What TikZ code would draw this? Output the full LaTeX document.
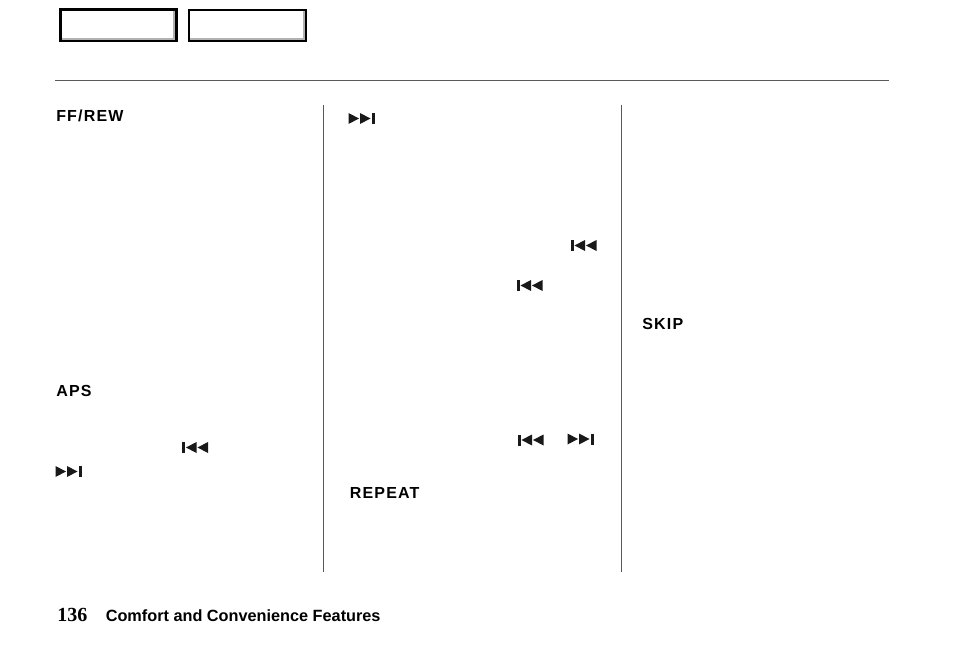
\documentclass[tikz,border=0pt]{standalone}
\usepackage{fontspec}
\setmainfont{Liberation Sans}
\newfontfamily\pagefont{Liberation Serif}
\newfontfamily\headfont[LetterSpace=7.5]{Liberation Sans}
\begin{document}
\begin{tikzpicture}[
            x=0.75pt, y=-0.75pt,
            heading/.style={anchor=west, inner sep=0pt, font=\headfont\bfseries\fontsize{12}{14}\selectfont},
            tab/.style={rectangle, draw=black, fill=white, minimum height=23.3pt, inner sep=0pt, anchor=north west},
            rule/.style={draw=black!65, line width=0.75pt},
            glyph/.style={fill=black!90, draw=none},
            pics/fwd/.style={code={
                \fill[glyph] (-13,-5.5) -- (-2.5,0) -- (-13,5.5) -- cycle;
                \fill[glyph] (-1.5,-5.5) -- (9,0) -- (-1.5,5.5) -- cycle;
                \fill[glyph] (10,-5.5) rectangle (13,5.5);
            }},
            pics/bwd/.style={code={
                \fill[glyph] (-13,-5.5) rectangle (-10,5.5);
                \fill[glyph] (-9,0) -- (1.5,-5.5) -- (1.5,5.5) -- cycle;
                \fill[glyph] (2.5,0) -- (13,-5.5) -- (13,5.5) -- cycle;
            }},
        ]
            \useasboundingbox[fill=white] (0,0) rectangle (954,656);
            % tabs at the top
            \node[tab, line width=2.2pt, minimum width=87pt](tabone) at (59,8.5) {};
            \node[tab, line width=1.5pt, minimum width=87.75pt](tabtwo) at (188,9) {};
            \draw[black!30, line width=1.5pt] ([shift={(-3.6,3)}]tabone.north east) -- ([shift={(-3.6,-3.6)}]tabone.south east) -- ([shift={(3,-3.6)}]tabone.south west);
            \draw[black!30, line width=1.5pt] ([shift={(-2.8,2)}]tabtwo.north east) -- ([shift={(-2.8,-2.8)}]tabtwo.south east) -- ([shift={(2,-2.8)}]tabtwo.south west);
            % rules
            \draw[rule] (55,80.5) -- (889,80.5);
            \draw[rule] (323.5,105) -- (323.5,572);
            \draw[rule] (621.5,105) -- (621.5,572);
            % headings
            \node[heading](ffrew) at (56,115.5) {FF/REW};
            \node[heading](aps) at (56,391) {APS};
            \node[heading](repeatlabel) at (349.5,493) {REPEAT};
            \node[heading](skip) at (642,324) {SKIP};
            % symbols
            \pic at (361.5,118.5) {fwd};
            \pic at (583.5,245.5) {bwd};
            \pic at (529.5,285.5) {bwd};
            \pic at (195,447.5) {bwd};
            \pic at (68.5,471.5) {fwd};
            \pic at (530.5,440) {bwd};
            \pic at (580.5,439) {fwd};
            % footer
            \node[anchor=base west, inner sep=0pt, font=\pagefont\bfseries\fontsize{15}{18}\selectfont](pagenum) at (57,621) {136};
            \node[anchor=base west, inner sep=0pt, font=\bfseries\fontsize{12.2}{14}\selectfont](chapter) at (105.5,621) {Comfort and Convenience Features};
        \end{tikzpicture}
\end{document}
